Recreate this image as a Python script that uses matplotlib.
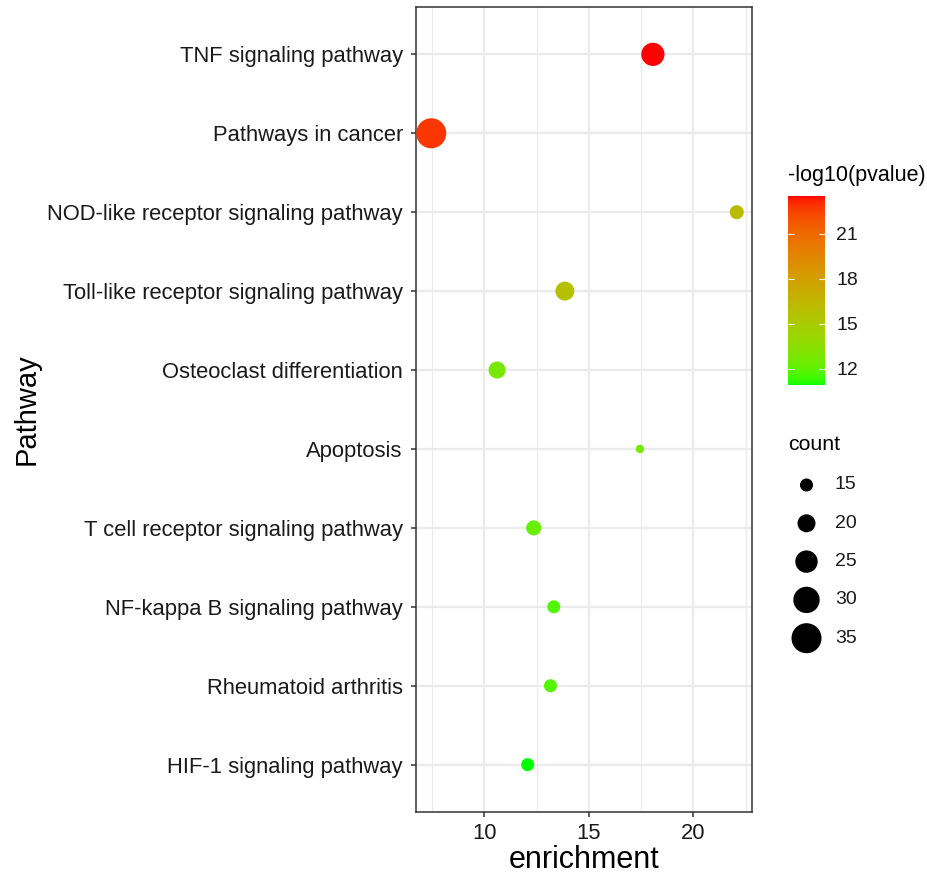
import numpy as np
import matplotlib
matplotlib.use("Agg")
import matplotlib.pyplot as plt
from matplotlib.colors import ListedColormap, Normalize

plt.rcParams['font.family'] = ['Liberation Sans', 'DejaVu Sans']

# ---------------- data ----------------
pathways = ["TNF signaling pathway", "Pathways in cancer",
            "NOD-like receptor signaling pathway", "Toll-like receptor signaling pathway",
            "Osteoclast differentiation", "Apoptosis", "T cell receptor signaling pathway",
            "NF-kappa B signaling pathway", "Rheumatoid arthritis", "HIF-1 signaling pathway"]
enrichment = [18.06, 7.46, 22.07, 13.85, 10.61, 17.44, 12.36, 13.32, 13.16, 12.07]
neglog10p = [23.53, 22.8, 16.0, 15.8, 12.8, 12.7, 12.3, 11.7, 11.8, 10.93]
count = [26, 35, 16, 21, 19, 11, 17, 15, 15, 15]
size_breaks = [15, 20, 25, 30, 35]
color_breaks = [12, 15, 18, 21]

DPI = 100
fig = plt.figure(figsize=(9.28, 8.76), dpi=DPI)
W, H = 928, 876

def fax(x0, y0, x1, y1):
    return fig.add_axes([x0 / W, 1 - y1 / H, (x1 - x0) / W, (y1 - y0) / H])

# ---------- colour map: green -> red interpolated in Lab ----------
def srgb_to_lab(rgb):
    rgb = np.asarray(rgb, float)
    lin = np.where(rgb <= 0.04045, rgb / 12.92, ((rgb + 0.055) / 1.055) ** 2.4)
    M = np.array([[0.4124, 0.3576, 0.1805], [0.2126, 0.7152, 0.0722], [0.0193, 0.1192, 0.9505]])
    xyz = M @ lin
    wp = np.array([0.95047, 1.0, 1.08883])
    t = xyz / wp
    f = np.where(t > (6 / 29) ** 3, np.cbrt(t), t / (3 * (6 / 29) ** 2) + 4 / 29)
    return np.array([116 * f[1] - 16, 500 * (f[0] - f[1]), 200 * (f[1] - f[2])])

def lab_to_srgb(lab):
    L, a, b = lab
    fy = (L + 16) / 116
    fx = fy + a / 500
    fz = fy - b / 200
    def finv(t):
        return np.where(t > 6 / 29, t ** 3, 3 * (6 / 29) ** 2 * (t - 4 / 29))
    wp = np.array([0.95047, 1.0, 1.08883])
    xyz = wp * np.array([finv(fx), finv(fy), finv(fz)])
    Minv = np.array([[3.2406, -1.5372, -0.4986], [-0.9689, 1.8758, 0.0415], [0.0557, -0.2040, 1.0570]])
    lin = Minv @ xyz
    lin = np.clip(lin, 0, 1)
    rgb = np.where(lin <= 0.0031308, 12.92 * lin, 1.055 * lin ** (1 / 2.4) - 0.055)
    return np.clip(rgb, 0, 1)

lab_lo = srgb_to_lab([0, 1, 0])
lab_hi = srgb_to_lab([1, 0, 0])
cols = [lab_to_srgb(lab_lo + (lab_hi - lab_lo) * t) for t in np.linspace(0, 1, 256)]
cmap = ListedColormap(cols)
norm = Normalize(vmin=min(neglog10p), vmax=max(neglog10p))

# ---------- size mapping (diameter in px linear in sqrt(count)) ----------
def size_pts2(c):
    d_px = -19.2 + 8.32 * np.sqrt(np.asarray(c, float))
    return (d_px * 72.0 / DPI) ** 2

# ---------------- main panel ----------------
ax = fax(416, 7, 752, 812)
n = len(pathways)
ypos = np.arange(n)[::-1]
ax.set_axisbelow(True)
ax.scatter(enrichment, ypos, s=size_pts2(count), c=neglog10p, cmap=cmap, norm=norm,
           linewidths=0, zorder=3)

xmin, xmax = min(enrichment), max(enrichment)
pad = 0.05 * (xmax - xmin)
ax.set_xlim(xmin - pad, xmax + pad)
ax.set_ylim(-0.6, n - 1 + 0.6)
ax.set_xticks([10, 15, 20])
ax.set_xticks([7.5, 12.5, 17.5, 22.5], minor=True)
ax.set_yticks(ypos)
ax.set_yticklabels(pathways)
ax.grid(True, which='major', color='#EBEBEB', linewidth=1.6)
ax.grid(True, which='minor', axis='x', color='#EBEBEB', linewidth=0.9)
ax.tick_params(axis='both', which='major', length=3.5, width=1.1, color='#333333',
               labelsize=15.8, labelcolor='#1a1a1a', pad=4.5)
ax.tick_params(axis='y', which='major', pad=6)
ax.tick_params(axis='both', which='minor', length=0)
for sp in ax.spines.values():
    sp.set_color('#333333')
    sp.set_linewidth(1.1)
ax.set_xlabel('enrichment', fontsize=22, color='black', labelpad=1)
ax.set_ylabel('Pathway', fontsize=21, color='black', labelpad=5)

# ---------------- colour bar ----------------
fig.text(788 / W, 1 - 175 / H, '-log10(pvalue)', fontsize=15.5, ha='left', va='center',
         color='black')
cax = fax(788, 196, 825, 385)
sm = matplotlib.cm.ScalarMappable(norm=norm, cmap=cmap)
cb = fig.colorbar(sm, cax=cax, ticks=color_breaks)
cb.outline.set_visible(False)
cax.tick_params(direction='in', length=4.5, width=0.8, color='white', left=True, right=True,
                labelleft=False, labelright=True, labelsize=14, labelcolor='#1a1a1a', pad=8)

# ---------------- size legend ----------------
fig.text(788 / W, 1 - 445 / H, 'count', fontsize=15.3, ha='left', va='center', color='black')
lax = fax(780, 466, 900, 656)
lax.set_xlim(0, 120)
lax.set_ylim(190, 0)
lax.axis('off')
ly = np.arange(len(size_breaks)) * 38.3 + 19
lax.scatter(np.full(len(size_breaks), 26.5), ly, s=size_pts2(size_breaks), c='black',
            linewidths=0)
for yy, lab in zip(ly, size_breaks):
    lax.text(55, yy, str(lab), fontsize=14, ha='left', va='center', color='#1a1a1a')

fig.savefig('out.png', dpi=DPI)
